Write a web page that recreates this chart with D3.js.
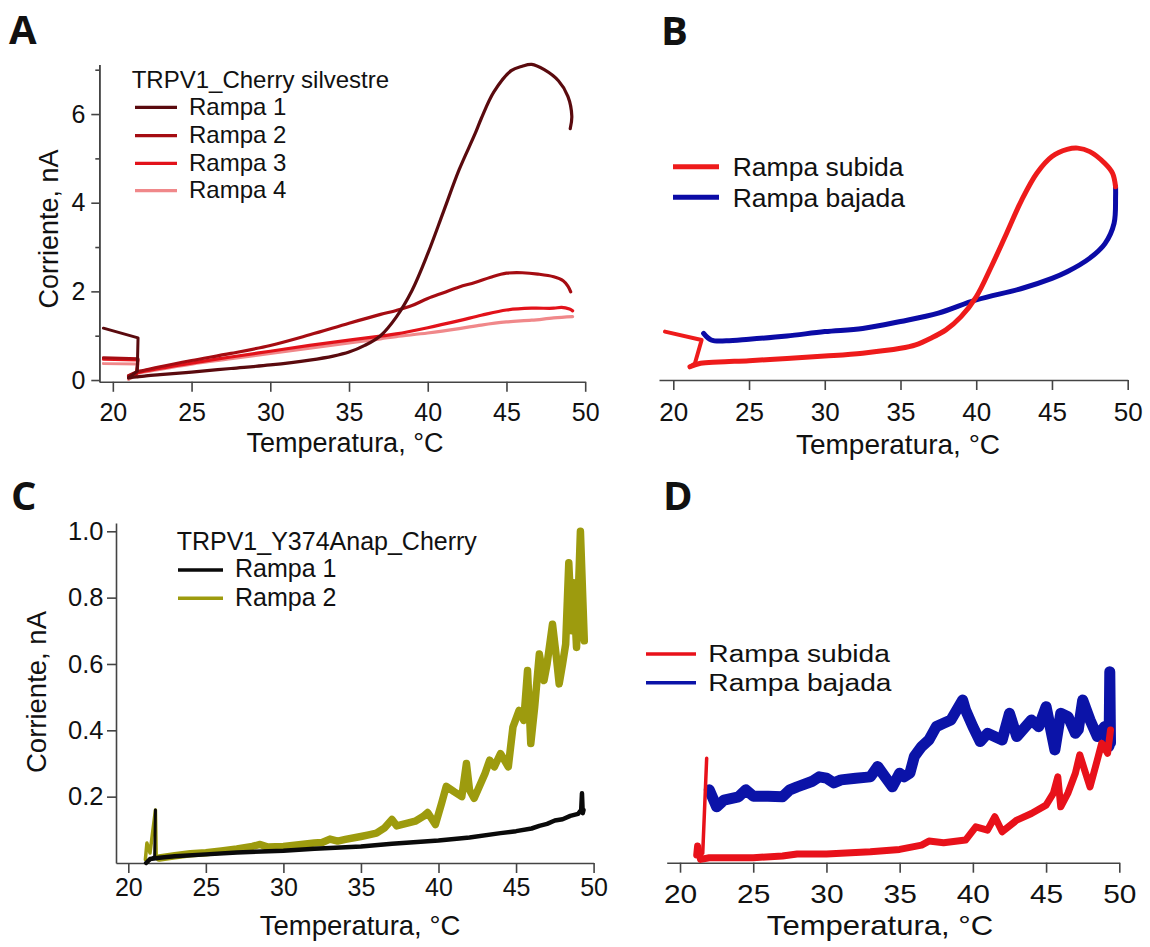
<!DOCTYPE html>
<html>
<head>
<meta charset="utf-8">
<script src="https://cdn.jsdelivr.net/npm/d3@7"></script>
<style>
  body { margin: 0; background: #fff; }
  svg text { font-family: Arial, "Liberation Sans", sans-serif; fill: #111; }
</style>
</head>
<body>
<svg id="fig" width="1150" height="947"></svg>
<script>
// ---- data ----
var tempTicks = [20, 25, 30, 35, 40, 45, 50];
var aCurrentTicks = [0, 2, 4, 6];
var aCurrentMinor = [1, 3, 5, 7];
var cCurrentTicks = [0.2, 0.4, 0.6, 0.8, 1.0];

var panelLetters = ["A", "B", "C", "D"];
var xTitle = "Temperatura, °C";
var yTitle = "Corriente, nA";
var aLegendTitle = "TRPV1_Cherry silvestre";
var aNames = ["Rampa 1", "Rampa 2", "Rampa 3", "Rampa 4"];
var cLegendTitle = "TRPV1_Y374Anap_Cherry";
var cNames = ["Rampa 1", "Rampa 2"];
var rampNames = ["Rampa subida", "Rampa bajada"];

// panel A, wild type, [temperature °C, current nA]
var aRampa1 = [[19.4,1.17],[21.6,0.95],[21.55,0.2],[21.0,0.05],[21.5,0.07],[22,0.09],[23,0.12],[25,0.18],[27.5,0.26],[30,0.34],[32.5,0.45],[34,0.54],[35,0.63],[36,0.78],[37,1.0],[38,1.42],[39,2.02],[40,2.85],[41,3.8],[42,4.75],[43,5.55],[43.4,5.9],[44.2,6.5],[45.3,6.98],[46,7.08],[46.6,7.12],[47.4,7.0],[48.3,6.75],[48.9,6.4],[49.15,5.95],[49.05,5.67]];
var aRampa2 = [[19.4,0.5],[21.6,0.48],[21.5,0.15],[21.0,0.1],[21.5,0.18],[22,0.22],[23,0.3],[25,0.44],[27.5,0.6],[30,0.78],[32.5,1.02],[35,1.28],[37,1.48],[38,1.57],[39,1.68],[40,1.84],[41,1.97],[42,2.1],[43,2.2],[44,2.32],[45,2.41],[46,2.42],[47,2.39],[48,2.33],[48.6,2.24],[48.9,2.12],[49.08,1.99]];
var aRampa3 = [[19.4,0.47],[21.6,0.45],[21.5,0.12],[21.0,0.08],[21.5,0.16],[22,0.2],[25,0.38],[27.5,0.52],[30,0.65],[32.5,0.78],[35,0.9],[37,0.99],[38,1.04],[40,1.18],[42,1.34],[43.4,1.46],[45,1.58],[46.6,1.62],[48,1.62],[48.5,1.64],[49.0,1.6],[49.2,1.56]];
var aRampa4 = [[19.4,0.37],[21.6,0.36],[21.5,0.1],[21.0,0.02],[21.3,0.12],[22,0.18],[25,0.36],[27.5,0.48],[30,0.6],[32.5,0.72],[35,0.84],[37,0.93],[38,0.98],[40,1.06],[42,1.16],[43.4,1.24],[45,1.31],[46.6,1.35],[48,1.4],[49.2,1.43]];

// panel B (no current axis shown)
var bSubida = [[19.45,1.10],[21.87,0.91],[21.43,0.38],[21.1,0.30],[21.8,0.38],[23,0.41],[25,0.44],[27.5,0.49],[30,0.545],[32.5,0.61],[35,0.72],[36,0.8],[37,0.95],[38,1.14],[39,1.44],[40,1.89],[41,2.58],[42,3.33],[43,4.09],[44,4.70],[45,5.08],[46,5.24],[46.7,5.27],[47.5,5.19],[48.5,4.92],[49,4.70],[49.2,4.39]];
var bBajada = [[49.2,4.39],[49.2,4.17],[49.1,3.56],[48.5,3.1],[47.5,2.77],[46,2.46],[45,2.31],[43,2.08],[40,1.82],[37.5,1.52],[35,1.33],[32.5,1.17],[30,1.10],[27.5,1.0],[25,0.925],[23.5,0.89],[22.5,0.91],[22.0,1.06]];

// panel C, Y374Anap mutant
var cRampa1 = [[21.75,0.16],[21.7,0.02],[21.15,0.0],[21.4,0.012],[22,0.016],[23,0.02],[25,0.026],[27,0.032],[30,0.037],[32,0.043],[35,0.05],[37,0.058],[40,0.068],[42,0.077],[44,0.09],[45,0.096],[46,0.104],[46.5,0.112],[47,0.118],[47.5,0.128],[48,0.132],[48.5,0.142],[49.0,0.148],[49.2,0.16],[49.25,0.21],[49.3,0.15],[49.35,0.16]];
var cRampa2 = [[21.1,0.01],[21.2,0.06],[21.4,0.03],[21.75,0.16],[21.8,0.02],[22,0.015],[23,0.022],[24,0.028],[25,0.031],[26,0.036],[27,0.042],[27.5,0.046],[28,0.05],[28.5,0.056],[29,0.048],[30,0.05],[31,0.055],[32,0.06],[32.5,0.062],[33,0.072],[33.5,0.066],[34,0.071],[35,0.08],[35.5,0.085],[36,0.09],[36.5,0.105],[37,0.131],[37.3,0.112],[38,0.12],[38.5,0.126],[39,0.14],[39.3,0.152],[39.8,0.116],[40.2,0.18],[40.5,0.231],[41,0.215],[41.5,0.2],[41.8,0.3],[42,0.22],[42.3,0.195],[43,0.27],[43.3,0.31],[43.6,0.29],[44,0.33],[44.5,0.29],[44.8,0.41],[45.2,0.46],[45.5,0.43],[45.74,0.58],[45.95,0.36],[46.2,0.47],[46.5,0.63],[46.8,0.55],[47,0.6],[47.35,0.72],[47.6,0.62],[47.78,0.54],[48.0,0.6],[48.2,0.66],[48.4,0.905],[48.6,0.7],[48.7,0.845],[48.9,0.65],[49.15,1.0],[49.3,0.8],[49.4,0.67]];

// panel D (no current axis shown)
var dSubida = [[21.82,0.314],[21.55,0.028],[21.14,0.023],[21.2,0.05],[21.4,0.01],[22,0.015],[25,0.015],[27,0.02],[28,0.026],[30,0.026],[33,0.033],[35,0.04],[36.5,0.053],[37,0.065],[38,0.06],[39.5,0.068],[40.2,0.108],[41,0.098],[41.5,0.138],[42,0.093],[43,0.128],[44,0.148],[45,0.173],[45.5,0.209],[45.8,0.258],[46,0.168],[46.5,0.21],[47,0.269],[47.3,0.324],[47.7,0.269],[48,0.228],[48.5,0.309],[48.8,0.359],[49.2,0.329],[49.4,0.399]];
var dBajada = [[49.4,0.36],[49.35,0.574],[49.3,0.35],[49,0.409],[48.5,0.379],[48,0.429],[47.5,0.489],[47.2,0.4],[47,0.389],[46.5,0.439],[46,0.449],[45.6,0.339],[45,0.469],[44.5,0.409],[44,0.429],[43,0.379],[42.5,0.449],[42,0.369],[41,0.389],[40.5,0.364],[40,0.409],[39.5,0.459],[39.3,0.489],[38.5,0.429],[38,0.419],[37.5,0.409],[37,0.369],[36.5,0.349],[36,0.319],[35.7,0.269],[35.3,0.258],[35,0.269],[34.5,0.228],[34,0.258],[33.5,0.289],[33,0.258],[32,0.254],[31,0.249],[30.5,0.24],[30,0.254],[29.5,0.258],[29,0.244],[28,0.228],[27.5,0.219],[27,0.198],[26,0.2],[25,0.2],[24.5,0.219],[24,0.198],[23,0.188],[22.5,0.168],[22,0.219]];

// ---- drawing ----
var svg = d3.select("#fig");
var axisColor = "#444";

function styleAxis(g, fontSize, sx) {
  g.attr("font-family", null).attr("font-size", null);
  g.select(".domain").attr("stroke", axisColor).attr("stroke-width", 1.6);
  g.selectAll(".tick line").attr("stroke", axisColor).attr("stroke-width", 1.6);
  g.selectAll(".tick text").style("font-size", fontSize + "px").attr("fill", "#111");
  if (sx && sx !== 1) g.selectAll(".tick text").attr("transform", "scale(" + sx + ",1)");
}

function addText(x, y, str, size, opts) {
  opts = opts || {};
  var t = svg.append("text")
    .attr("transform", "translate(" + x + "," + y + ")" + (opts.rotate ? " rotate(-90)" : "") + (opts.sx ? " scale(" + opts.sx + ",1)" : ""))
    .attr("text-anchor", opts.anchor || "start")
    .style("font-size", size + "px")
    .text(str);
  if (opts.bold) t.style("font-weight", "bold").style("font-family", "'Open Sans', 'Noto Sans', sans-serif");
  return t;
}

function drawLine(x, y, data, color, width, curve) {
  var line = d3.line().x(d => x(d[0])).y(d => y(d[1])).curve(curve || d3.curveLinear);
  svg.append("path")
    .datum(data)
    .attr("d", line)
    .attr("fill", "none")
    .attr("stroke", color)
    .attr("stroke-width", width)
    .attr("stroke-linejoin", "round")
    .attr("stroke-linecap", "round");
}

// a trace whose first points (the jump before the ramp) are drawn straight and thinner
function drawTrace(x, y, data, lead, color, leadWidth, width, curve) {
  drawLine(x, y, data.slice(0, lead + 1), color, leadWidth);
  drawLine(x, y, data.slice(lead), color, width, curve);
}

function drawLegend(x1, x2, xt, rows, names, colors, lw, size, sx) {
  names.forEach(function(name, i) {
    svg.append("line")
      .attr("x1", x1).attr("x2", x2)
      .attr("y1", rows[i].line).attr("y2", rows[i].line)
      .attr("stroke", colors[i]).attr("stroke-width", lw);
    addText(xt, rows[i].base, name, size, { sx: sx });
  });
}

// panel A
var xA = d3.scaleLinear().domain([19.14, 50]).range([99.3, 585.2]);
var yA = d3.scaleLinear().domain([-0.04, 7.12]).range([381.8, 64.4]);
var aColors = ["#5a0a0e", "#a50c12", "#e2121a", "#f0888a"];

svg.append("g").attr("transform", "translate(0," + yA(-0.04) + ")")
  .call(d3.axisBottom(xA).tickValues(tempTicks).tickSize(10).tickSizeOuter(0).tickPadding(11.5))
  .call(g => styleAxis(g, 25));
svg.append("g").attr("transform", "translate(" + xA(19.14) + ",0)")
  .call(d3.axisLeft(yA).tickValues(aCurrentMinor).tickSize(4).tickSizeOuter(0).tickFormat(""))
  .call(g => styleAxis(g, 25));
svg.append("g").attr("transform", "translate(" + xA(19.14) + ",0)")
  .call(d3.axisLeft(yA).tickValues(aCurrentTicks).tickSize(8).tickSizeOuter(0).tickPadding(6))
  .call(g => styleAxis(g, 25));

[aRampa4, aRampa3, aRampa2, aRampa1].forEach(function(d, i) {
  drawTrace(xA, yA, d, 3, aColors[3 - i], 3, 3.2, d3.curveCatmullRom);
});

addText(131.7, 88.3, aLegendTitle, 24);
drawLegend(135, 177, 189,
  [{line: 107.3, base: 115}, {line: 135.7, base: 143.3}, {line: 163.3, base: 171}, {line: 190.7, base: 198.3}],
  aNames, aColors, 3.2, 24);
addText(345, 452, xTitle, 27, { anchor: "middle" });
addText(58, 229, yTitle, 27, { anchor: "middle", rotate: true });

// panel B
var xB = d3.scaleLinear().domain([19.056, 50]).range([659, 1127.7]);
var yB = d3.scaleLinear().domain([0, 6]).range([380, 116]);
var bColors = ["#ee1b1b", "#0b0ba6"];

svg.append("g").attr("transform", "translate(0," + yB(0) + ")")
  .call(d3.axisBottom(xB).tickValues(tempTicks).tickSize(10).tickSizeOuter(0).tickPadding(13))
  .call(g => styleAxis(g, 26));
drawLine(xB, yB, bBajada, bColors[1], 5, d3.curveCatmullRom);
drawTrace(xB, yB, bSubida, 3, bColors[0], 4, 5, d3.curveCatmullRom);
drawLegend(673, 719, 732.7, [{line: 166.7, base: 176}, {line: 197.3, base: 206.7}], rampNames, bColors, 5, 26.5);
addText(898, 454, xTitle, 28, { anchor: "middle" });

// panel C
var xC = d3.scaleLinear().domain([19.207, 50]).range([116, 593.6]);
var yC = d3.scaleLinear().domain([0, 1.025]).range([863, 523]);
var cColors = ["#0a0a0a", "#9d9b0e"];

svg.append("g").attr("transform", "translate(0," + yC(0) + ")")
  .call(d3.axisBottom(xC).tickValues(tempTicks).tickSize(10).tickSizeOuter(0).tickPadding(5.6))
  .call(g => styleAxis(g, 25));
svg.append("g").attr("transform", "translate(" + xC(19.207) + ",0)")
  .call(d3.axisLeft(yC).tickValues(cCurrentTicks).tickSize(9).tickSizeOuter(0).tickPadding(3.5).tickFormat(d3.format(".1f")))
  .call(g => styleAxis(g, 25.5));
drawTrace(xC, yC, cRampa2, 5, cColors[1], 3.5, 7.5);
drawTrace(xC, yC, cRampa1, 2, cColors[0], 3, 4.5);
addText(176.7, 550, cLegendTitle, 25);
drawLegend(178, 223, 235, [{line: 570, base: 577.3}, {line: 598.3, base: 606}], cNames, cColors, 3.5, 25);
addText(360, 935, xTitle, 27.5, { anchor: "middle" });
addText(46, 692, yTitle, 27.5, { anchor: "middle", rotate: true });

// panel D
var xD = d3.scaleLinear().domain([19.09, 50]).range([666.7, 1119.3]);
var yD = d3.scaleLinear().domain([0, 1]).range([862.7, 530]);
var dColors = ["#e8111a", "#0b13a8"];
var dStretch = 1.15;

svg.append("g").attr("transform", "translate(0," + yD(0) + ")")
  .call(d3.axisBottom(xD).tickValues(tempTicks).tickSize(10).tickSizeOuter(0).tickPadding(12.3))
  .call(g => styleAxis(g, 26, dStretch));
drawLine(xD, yD, dBajada, dColors[1], 11);
drawTrace(xD, yD, dSubida, 2, dColors[0], 3.5, 7);
drawLegend(646, 696, 708.3, [{line: 654, base: 661.7}, {line: 682.7, base: 691}], rampNames, dColors, 3.5, 24.5, dStretch);
addText(880, 935, xTitle, 27, { anchor: "middle", sx: dStretch });

// panel letters
addText(9, 44, panelLetters[0], 40, { bold: true });
addText(661, 45, panelLetters[1], 40, { bold: true });
addText(11, 510, panelLetters[2], 40, { bold: true });
addText(663, 510, panelLetters[3], 40, { bold: true });
</script>
</body>
</html>
